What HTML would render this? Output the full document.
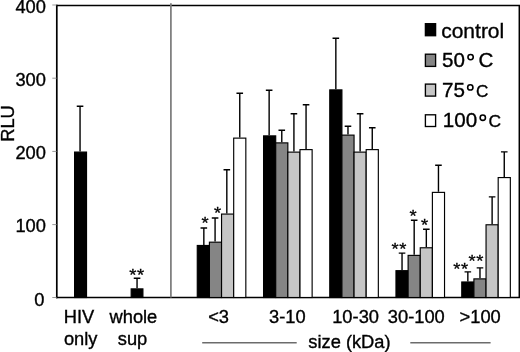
<!DOCTYPE html>
<html><head><meta charset="utf-8"><title>chart</title>
<style>
html,body{margin:0;padding:0;background:#fff;}
body{width:520px;height:352px;overflow:hidden;}
svg{display:block;will-change:transform;}
text{font-family:"Liberation Sans",sans-serif;fill:#000;stroke:#000;stroke-width:0.35px;}
</style></head><body>
<svg width="520" height="352" viewBox="0 0 520 352">
<rect x="0" y="0" width="520" height="352" fill="#fff"/>

<g stroke="#000" stroke-width="1.6" fill="none">
<path d="M56.8 4.8 V298.25" stroke-width="1.7"/><path d="M56 297.5 H520" stroke-width="1.5"/><path d="M56 5.45 H520" stroke-width="1.35"/><path d="M519.3 5 V298" stroke-width="1.5"/>
<path d="M52.3 5 H56.5" stroke="#999" stroke-width="1"/>
<path d="M52.3 78.2 H56.5" stroke="#999" stroke-width="1"/>
<path d="M52.3 151.4 H56.5" stroke="#999" stroke-width="1"/>
<path d="M52.3 224.6 H56.5" stroke="#999" stroke-width="1"/>
<path d="M52.3 297.5 H56.5" stroke="#999" stroke-width="1"/>
</g>
<path d="M170.9 3.2 V297.5" stroke="#7a7a7a" stroke-width="1.7"/>
<g stroke="#000" stroke-width="1.15">
<path d="M80.05 151.50 V106.30 M76.75 106.30 H83.35" fill="none" stroke-width="1.4"/>
<path d="M137.05 288.30 V278.30 M133.75 278.30 H140.35" fill="none" stroke-width="1.4"/>
<path d="M203.84 244.90 V228.00 M200.54 228.00 H207.14" fill="none" stroke-width="1.4"/>
<path d="M215.08 241.60 V218.00 M211.78 218.00 H218.38" fill="none" stroke-width="1.4"/>
<path d="M226.82 213.50 V169.80 M223.52 169.80 H230.12" fill="none" stroke-width="1.4"/>
<path d="M239.76 137.55 V93.30 M236.46 93.30 H243.06" fill="none" stroke-width="1.4"/>
<path d="M269.14 135.30 V90.30 M265.84 90.30 H272.44" fill="none" stroke-width="1.4"/>
<path d="M281.78 142.30 V130.30 M278.48 130.30 H285.08" fill="none" stroke-width="1.4"/>
<path d="M293.92 151.55 V113.80 M290.62 113.80 H297.22" fill="none" stroke-width="1.4"/>
<path d="M306.06 149.05 V104.80 M302.76 104.80 H309.36" fill="none" stroke-width="1.4"/>
<path d="M335.84 89.30 V38.30 M332.54 38.30 H339.14" fill="none" stroke-width="1.4"/>
<path d="M347.98 134.55 V126.30 M344.68 126.30 H351.28" fill="none" stroke-width="1.4"/>
<path d="M360.12 151.55 V113.80 M356.82 113.80 H363.42" fill="none" stroke-width="1.4"/>
<path d="M372.26 149.05 V127.80 M368.96 127.80 H375.56" fill="none" stroke-width="1.4"/>
<path d="M402.04 270.10 V253.10 M398.74 253.10 H405.34" fill="none" stroke-width="1.4"/>
<path d="M414.18 254.80 V220.30 M410.88 220.30 H417.48" fill="none" stroke-width="1.4"/>
<path d="M426.32 247.20 V229.30 M423.02 229.30 H429.62" fill="none" stroke-width="1.4"/>
<path d="M438.46 191.80 V165.30 M435.16 165.30 H441.76" fill="none" stroke-width="1.4"/>
<path d="M467.84 281.40 V271.90 M464.54 271.90 H471.14" fill="none" stroke-width="1.4"/>
<path d="M479.98 278.30 V267.90 M476.68 267.90 H483.28" fill="none" stroke-width="1.4"/>
<path d="M492.12 224.20 V196.90 M488.82 196.90 H495.42" fill="none" stroke-width="1.4"/>
<path d="M504.26 177.00 V151.90 M500.96 151.90 H507.56" fill="none" stroke-width="1.4"/>
<rect x="74.58" y="152.07" width="11.95" height="145.43" fill="#000"/>
<rect x="131.17" y="288.88" width="11.75" height="8.62" fill="#000"/>
<rect x="197.27" y="245.47" width="12.14" height="52.02" fill="#000"/>
<rect x="209.41" y="242.18" width="12.14" height="55.32" fill="#858585"/>
<rect x="221.55" y="214.07" width="12.14" height="83.42" fill="#c6c6c6"/>
<rect x="233.69" y="138.12" width="12.14" height="159.38" fill="#fff"/>
<rect x="263.57" y="135.88" width="12.14" height="161.62" fill="#000"/>
<rect x="275.71" y="142.88" width="12.14" height="154.62" fill="#858585"/>
<rect x="287.85" y="152.12" width="12.14" height="145.38" fill="#c6c6c6"/>
<rect x="299.99" y="149.62" width="12.14" height="147.88" fill="#fff"/>
<rect x="329.77" y="89.88" width="12.14" height="207.62" fill="#000"/>
<rect x="341.91" y="135.12" width="12.14" height="162.38" fill="#858585"/>
<rect x="354.05" y="152.12" width="12.14" height="145.38" fill="#c6c6c6"/>
<rect x="366.19" y="149.62" width="12.14" height="147.88" fill="#fff"/>
<rect x="395.97" y="270.68" width="12.14" height="26.82" fill="#000"/>
<rect x="408.11" y="255.38" width="12.14" height="42.12" fill="#858585"/>
<rect x="420.25" y="247.78" width="12.14" height="49.72" fill="#c6c6c6"/>
<rect x="432.39" y="192.38" width="12.14" height="105.12" fill="#fff"/>
<rect x="461.77" y="281.98" width="12.14" height="15.52" fill="#000"/>
<rect x="473.91" y="278.88" width="12.14" height="18.62" fill="#858585"/>
<rect x="486.05" y="224.78" width="12.14" height="72.72" fill="#c6c6c6"/>
<rect x="498.19" y="177.57" width="12.14" height="119.92" fill="#fff"/>
</g>
<text x="45.9" y="12.6" font-size="18.3" text-anchor="end">400</text>
<text x="45.9" y="85.8" font-size="18.3" text-anchor="end">300</text>
<text x="45.9" y="159.0" font-size="18.3" text-anchor="end">200</text>
<text x="45.9" y="232.2" font-size="18.3" text-anchor="end">100</text>
<text x="44.4" y="305.5" font-size="18.3" text-anchor="end">0</text>
<text transform="translate(13.6,141.8) rotate(-90)" font-size="18.3">RLU</text>
<text x="79.05" y="322.5" font-size="18.3" text-anchor="middle">HIV</text>
<text x="133.40" y="322.5" font-size="18.3" text-anchor="middle">whole</text>
<text x="80.65" y="344.8" font-size="18.3" text-anchor="middle">only</text>
<text x="132.50" y="344.8" font-size="18.3" text-anchor="middle">sup</text>
<text x="218.60" y="322.5" font-size="18.3" text-anchor="middle">&lt;3</text>
<text x="287.40" y="322.5" font-size="18.3" text-anchor="middle">3-10</text>
<text x="355.60" y="322.5" font-size="18.3" text-anchor="middle">10-30</text>
<text x="416.30" y="322.5" font-size="18.3" text-anchor="middle">30-100</text>
<text x="480.20" y="322.5" font-size="18.3" text-anchor="middle">&gt;100</text>
<text x="349.45" y="347.9" font-size="18.3" text-anchor="middle">size (kDa)</text>
<path d="M202.2 342.8 H296.7 M410.3 342.8 H490.6" stroke="#6c6c6c" stroke-width="1.4"/>
<text transform="translate(136.6,275.00) scale(0.9,0.8)" x="0.3" y="7.6" font-size="20.5" letter-spacing="0.6" text-anchor="middle" stroke="#000" stroke-width="0.1">**</text>
<text transform="translate(205,222.70) scale(0.9,0.8)" x="0.3" y="7.6" font-size="20.5" letter-spacing="0.6" text-anchor="middle" stroke="#000" stroke-width="0.1">*</text>
<text transform="translate(217.5,212.60) scale(0.9,0.8)" x="0.3" y="7.6" font-size="20.5" letter-spacing="0.6" text-anchor="middle" stroke="#000" stroke-width="0.1">*</text>
<text transform="translate(413,216.10) scale(0.9,0.8)" x="0.3" y="7.6" font-size="20.5" letter-spacing="0.6" text-anchor="middle" stroke="#000" stroke-width="0.1">*</text>
<text transform="translate(424.5,225.10) scale(0.9,0.8)" x="0.3" y="7.6" font-size="20.5" letter-spacing="0.6" text-anchor="middle" stroke="#000" stroke-width="0.1">*</text>
<text transform="translate(399,248.60) scale(0.9,0.8)" x="0.3" y="7.6" font-size="20.5" letter-spacing="0.6" text-anchor="middle" stroke="#000" stroke-width="0.1">**</text>
<text transform="translate(460.7,268.80) scale(0.9,0.8)" x="0.3" y="7.6" font-size="20.5" letter-spacing="0.6" text-anchor="middle" stroke="#000" stroke-width="0.1">**</text>
<text transform="translate(476,261.30) scale(0.9,0.8)" x="0.3" y="7.6" font-size="20.5" letter-spacing="0.6" text-anchor="middle" stroke="#000" stroke-width="0.1">**</text>
<rect x="425.4" y="23.7" width="10.2" height="12.0" fill="#000" stroke="#000" stroke-width="1.35"/>
<rect x="425.4" y="54.2" width="10.2" height="12.2" fill="#858585" stroke="#000" stroke-width="1.35"/>
<rect x="425.4" y="84.1" width="10.2" height="12.0" fill="#c6c6c6" stroke="#000" stroke-width="1.35"/>
<rect x="425.4" y="114.8" width="10.2" height="11.7" fill="#fff" stroke="#000" stroke-width="1.35"/>
<text x="441.2" y="37.7" font-size="21">control</text>
<text x="442.0" y="67.3" font-size="20.6">50</text>
<circle cx="470.6" cy="57.1" r="2.65" fill="none" stroke="#000" stroke-width="1.6"/>
<text x="478.5" y="67.3" font-size="20.6">C</text>
<text x="442.0" y="96.8" font-size="20.6">75</text>
<circle cx="470.3" cy="87.4" r="2.65" fill="none" stroke="#000" stroke-width="1.6"/>
<text x="476.1" y="96.8" font-size="17.1">C</text>
<text x="442.8" y="126.7" font-size="20.6">100</text>
<circle cx="482.8" cy="117.7" r="2.65" fill="none" stroke="#000" stroke-width="1.6"/>
<text x="488.5" y="126.7" font-size="17.4">C</text>
</svg></body></html>
